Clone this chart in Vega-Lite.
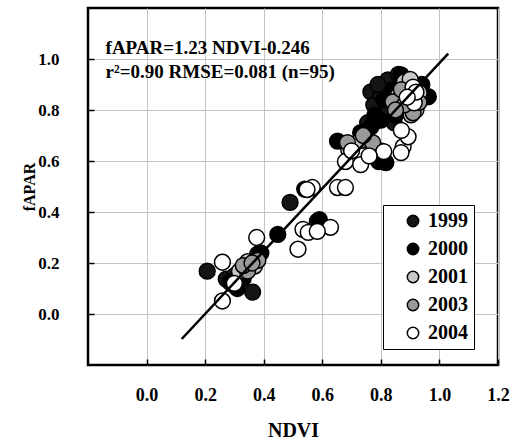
{
  "$schema": "https://vega.github.io/schema/vega-lite/v6.json",
  "width": 410,
  "height": 357,
  "padding": {"left": 21, "top": 8, "right": 0, "bottom": 0},
  "background": "white",
  "config": {
    "view": {"stroke": "black", "strokeWidth": 2.5},
    "font": "Liberation Serif",
    "axis": {
      "domain": false,
      "labelFont": "Liberation Serif",
      "labelFontWeight": "bold",
      "labelFontSize": 18,
      "labelColor": "black",
      "titleFont": "Liberation Serif",
      "titleFontWeight": "bold",
      "titleFontSize": 20,
      "titleColor": "black",
      "tickColor": "black",
      "tickWidth": 1.5,
      "tickSize": -6,
      "grid": true,
      "gridColor": "#c4c4c4",
      "gridWidth": 1
    }
  },
  "encoding": {
    "x": {
      "field": "NDVI", "type": "quantitative",
      "scale": {"domain": [-0.2, 1.2], "nice": false, "zero": false},
      "axis": {"values": [0, 0.2, 0.4, 0.6, 0.8, 1.0, 1.2], "format": ".1f", "labelPadding": 27, "labelFlush": false, "titlePadding": 16, "title": "NDVI"}
    },
    "y": {
      "field": "fAPAR", "type": "quantitative",
      "scale": {"domain": [-0.2, 1.2], "nice": false, "zero": false},
      "axis": {"values": [0, 0.2, 0.4, 0.6, 0.8, 1.0], "format": ".1f", "labelFontSize": 17, "labelPadding": 35, "labelFlush": false, "titlePadding": 0, "titleFontSize": 16, "title": "fAPAR"}
    }
  },
  "layer": [
    {
      "data": {
        "values": [
          {"NDVI": 0.207, "fAPAR": 0.168, "year": "1999"},
          {"NDVI": 0.272, "fAPAR": 0.137, "year": "1999"},
          {"NDVI": 0.293, "fAPAR": 0.117, "year": "1999"},
          {"NDVI": 0.362, "fAPAR": 0.086, "year": "1999"},
          {"NDVI": 0.30, "fAPAR": 0.15, "year": "1999"},
          {"NDVI": 0.379, "fAPAR": 0.234, "year": "1999"},
          {"NDVI": 0.49, "fAPAR": 0.4375, "year": "1999"},
          {"NDVI": 0.583, "fAPAR": 0.363, "year": "1999"},
          {"NDVI": 0.755, "fAPAR": 0.75, "year": "1999"},
          {"NDVI": 0.80, "fAPAR": 0.64, "year": "1999"},
          {"NDVI": 0.70, "fAPAR": 0.66, "year": "1999"},
          {"NDVI": 0.766, "fAPAR": 0.871, "year": "1999"},
          {"NDVI": 0.824, "fAPAR": 0.918, "year": "1999"},
          {"NDVI": 0.776, "fAPAR": 0.82, "year": "1999"},
          {"NDVI": 0.845, "fAPAR": 0.75, "year": "1999"},
          {"NDVI": 0.80, "fAPAR": 0.86, "year": "1999"},
          {"NDVI": 0.79, "fAPAR": 0.90, "year": "1999"},
          {"NDVI": 0.82, "fAPAR": 0.80, "year": "1999"},
          {"NDVI": 0.86, "fAPAR": 0.94, "year": "1999"},
          {"NDVI": 0.285, "fAPAR": 0.125, "year": "2000"},
          {"NDVI": 0.33, "fAPAR": 0.14, "year": "2000"},
          {"NDVI": 0.31, "fAPAR": 0.10, "year": "2000"},
          {"NDVI": 0.35, "fAPAR": 0.18, "year": "2000"},
          {"NDVI": 0.448, "fAPAR": 0.312, "year": "2000"},
          {"NDVI": 0.39, "fAPAR": 0.24, "year": "2000"},
          {"NDVI": 0.59, "fAPAR": 0.37, "year": "2000"},
          {"NDVI": 0.54, "fAPAR": 0.49, "year": "2000"},
          {"NDVI": 0.652, "fAPAR": 0.678, "year": "2000"},
          {"NDVI": 0.766, "fAPAR": 0.734, "year": "2000"},
          {"NDVI": 0.731, "fAPAR": 0.711, "year": "2000"},
          {"NDVI": 0.793, "fAPAR": 0.598, "year": "2000"},
          {"NDVI": 0.817, "fAPAR": 0.594, "year": "2000"},
          {"NDVI": 0.869, "fAPAR": 0.9375, "year": "2000"},
          {"NDVI": 0.962, "fAPAR": 0.852, "year": "2000"},
          {"NDVI": 0.78, "fAPAR": 0.78, "year": "2000"},
          {"NDVI": 0.84, "fAPAR": 0.88, "year": "2000"},
          {"NDVI": 0.81, "fAPAR": 0.84, "year": "2000"},
          {"NDVI": 0.94, "fAPAR": 0.90, "year": "2000"},
          {"NDVI": 0.85, "fAPAR": 0.78, "year": "2000"},
          {"NDVI": 0.80, "fAPAR": 0.76, "year": "2000"},
          {"NDVI": 0.317, "fAPAR": 0.168, "year": "2001"},
          {"NDVI": 0.369, "fAPAR": 0.188, "year": "2001"},
          {"NDVI": 0.345, "fAPAR": 0.205, "year": "2001"},
          {"NDVI": 0.69, "fAPAR": 0.645, "year": "2001"},
          {"NDVI": 0.772, "fAPAR": 0.656, "year": "2001"},
          {"NDVI": 0.73, "fAPAR": 0.68, "year": "2001"},
          {"NDVI": 0.903, "fAPAR": 0.781, "year": "2001"},
          {"NDVI": 0.897, "fAPAR": 0.898, "year": "2001"},
          {"NDVI": 0.931, "fAPAR": 0.867, "year": "2001"},
          {"NDVI": 0.88, "fAPAR": 0.91, "year": "2001"},
          {"NDVI": 0.91, "fAPAR": 0.84, "year": "2001"},
          {"NDVI": 0.90, "fAPAR": 0.92, "year": "2001"},
          {"NDVI": 0.86, "fAPAR": 0.86, "year": "2001"},
          {"NDVI": 0.92, "fAPAR": 0.80, "year": "2001"},
          {"NDVI": 0.345, "fAPAR": 0.168, "year": "2003"},
          {"NDVI": 0.33, "fAPAR": 0.19, "year": "2003"},
          {"NDVI": 0.38, "fAPAR": 0.21, "year": "2003"},
          {"NDVI": 0.36, "fAPAR": 0.20, "year": "2003"},
          {"NDVI": 0.686, "fAPAR": 0.672, "year": "2003"},
          {"NDVI": 0.772, "fAPAR": 0.672, "year": "2003"},
          {"NDVI": 0.74, "fAPAR": 0.70, "year": "2003"},
          {"NDVI": 0.869, "fAPAR": 0.852, "year": "2003"},
          {"NDVI": 0.841, "fAPAR": 0.832, "year": "2003"},
          {"NDVI": 0.91, "fAPAR": 0.789, "year": "2003"},
          {"NDVI": 0.88, "fAPAR": 0.82, "year": "2003"},
          {"NDVI": 0.85, "fAPAR": 0.80, "year": "2003"},
          {"NDVI": 0.90, "fAPAR": 0.86, "year": "2003"},
          {"NDVI": 0.87, "fAPAR": 0.88, "year": "2003"},
          {"NDVI": 0.93, "fAPAR": 0.83, "year": "2003"},
          {"NDVI": 0.259, "fAPAR": 0.203, "year": "2004"},
          {"NDVI": 0.259, "fAPAR": 0.051, "year": "2004"},
          {"NDVI": 0.376, "fAPAR": 0.30, "year": "2004"},
          {"NDVI": 0.30, "fAPAR": 0.12, "year": "2004"},
          {"NDVI": 0.534, "fAPAR": 0.332, "year": "2004"},
          {"NDVI": 0.552, "fAPAR": 0.32, "year": "2004"},
          {"NDVI": 0.628, "fAPAR": 0.34, "year": "2004"},
          {"NDVI": 0.583, "fAPAR": 0.324, "year": "2004"},
          {"NDVI": 0.517, "fAPAR": 0.254, "year": "2004"},
          {"NDVI": 0.566, "fAPAR": 0.496, "year": "2004"},
          {"NDVI": 0.652, "fAPAR": 0.496, "year": "2004"},
          {"NDVI": 0.679, "fAPAR": 0.496, "year": "2004"},
          {"NDVI": 0.548, "fAPAR": 0.488, "year": "2004"},
          {"NDVI": 0.679, "fAPAR": 0.598, "year": "2004"},
          {"NDVI": 0.731, "fAPAR": 0.586, "year": "2004"},
          {"NDVI": 0.70, "fAPAR": 0.64, "year": "2004"},
          {"NDVI": 0.81, "fAPAR": 0.637, "year": "2004"},
          {"NDVI": 0.876, "fAPAR": 0.656, "year": "2004"},
          {"NDVI": 0.869, "fAPAR": 0.633, "year": "2004"},
          {"NDVI": 0.893, "fAPAR": 0.695, "year": "2004"},
          {"NDVI": 0.87, "fAPAR": 0.72, "year": "2004"},
          {"NDVI": 0.76, "fAPAR": 0.62, "year": "2004"},
          {"NDVI": 0.914, "fAPAR": 0.828, "year": "2004"},
          {"NDVI": 0.91, "fAPAR": 0.89, "year": "2004"},
          {"NDVI": 0.92, "fAPAR": 0.87, "year": "2004"},
          {"NDVI": 0.89, "fAPAR": 0.85, "year": "2004"}
        ]
      },
      "mark": {"type": "circle", "size": 250, "stroke": "black", "strokeWidth": 1.5, "opacity": 1},
      "encoding": {
        "fill": {
          "field": "year", "type": "nominal",
          "scale": {"domain": ["1999", "2000", "2001", "2003", "2004"], "range": ["#151515", "#000000", "#c8c8c8", "#9a9a9a", "#ffffff"]},
          "legend": {
            "title": null,
            "orient": "none",
            "legendX": 295,
            "legendY": 197,
            "padding": 6,
            "symbolOffset": 14,
            "rowPadding": 8,
            "symbolSize": 130,
            "symbolType": "circle",
            "symbolStrokeColor": "black",
            "symbolStrokeWidth": 1.5,
            "labelFont": "Liberation Serif",
            "labelFontWeight": "bold",
            "labelFontSize": 20,
            "labelColor": "black",
            "labelOffset": 5,
            "labelExpr": "datum.label + '   '",
            "strokeColor": "black",
            "fillColor": "white",
            "encode": {"legend": {"update": {"strokeDash": {"value": [5, 3]}, "strokeWidth": {"value": 1}}}}
          }
        }
      }
    },
    {
      "data": {"values": [{"NDVI": 0.12, "fAPAR": -0.098}, {"NDVI": 1.03, "fAPAR": 1.021}]},
      "mark": {"type": "line", "color": "black", "strokeWidth": 2.5},
      "encoding": {}
    },
    {
      "data": {"values": [
        {"NDVI": -0.14, "fAPAR": 1.045, "label": "fAPAR=1.23 NDVI-0.246"},
        {"NDVI": -0.14, "fAPAR": 0.95, "label": "r²=0.90 RMSE=0.081 (n=95)"}
      ]},
      "mark": {"type": "text", "align": "left", "baseline": "middle", "font": "Liberation Serif", "fontWeight": "bold", "fontSize": 19, "color": "black"},
      "encoding": {
        "text": {"field": "label"}
      }
    }
  ]
}
